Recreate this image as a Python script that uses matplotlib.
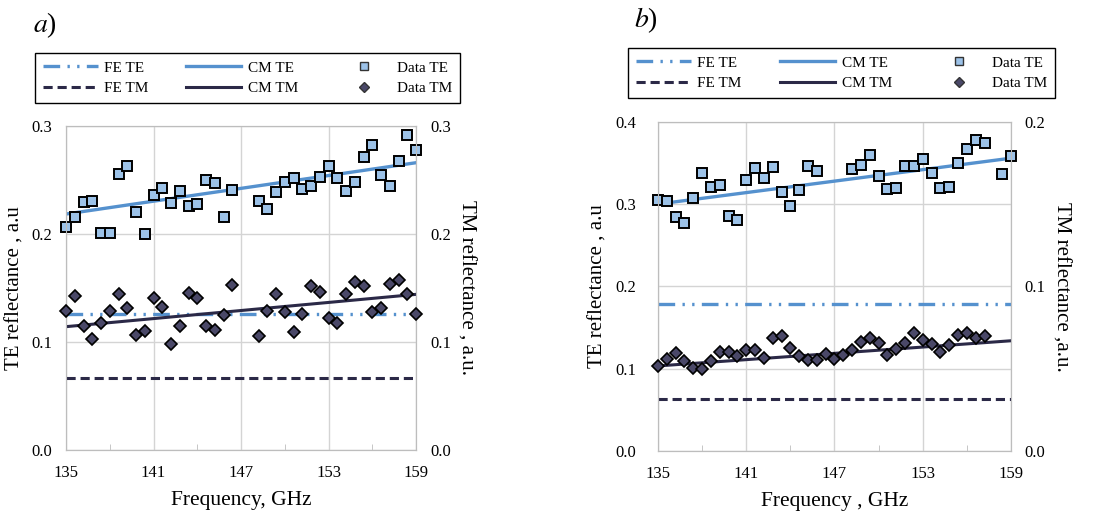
import matplotlib.pyplot as plt
from matplotlib.lines import Line2D
from matplotlib.ticker import MultipleLocator

plt.rcParams['font.family'] = ['Liberation Serif', 'DejaVu Serif']
plt.rcParams['mathtext.fontset'] = 'stix'

# panel a data
freq_te_a = [135.0, 135.6, 136.2, 136.8, 137.4, 138.0, 138.6, 139.2, 139.8, 140.4,
             141.0, 141.6, 142.2, 142.8, 143.4, 144.0, 144.6, 145.2, 145.8, 146.4,
             148.2, 148.8, 149.4, 150.0, 150.6, 151.2, 151.8, 152.4, 153.0, 153.6,
             154.2, 154.8, 155.4, 156.0, 156.6, 157.2, 157.8, 158.4, 159.0]
te_a = [0.2068, 0.2160, 0.2296, 0.2310, 0.2006, 0.2012, 0.2560, 0.2630, 0.2200, 0.1997,
        0.2364, 0.2426, 0.2287, 0.2400, 0.2262, 0.2278, 0.2497, 0.2475, 0.2154, 0.2410,
        0.2302, 0.2231, 0.2392, 0.2485, 0.2522, 0.2414, 0.2444, 0.2525, 0.2630, 0.2515,
        0.2395, 0.2478, 0.2716, 0.2824, 0.2546, 0.2444, 0.2676, 0.2917, 0.2778]
freq_tm_a = freq_te_a
tm_a = [0.1287, 0.1429, 0.1148, 0.1031, 0.1179, 0.1287, 0.1448, 0.1312, 0.1065, 0.1102,
        0.1410, 0.1324, 0.0978, 0.1148, 0.1454, 0.1410, 0.1151, 0.1108, 0.1247, 0.1528,
        0.1059, 0.1287, 0.1448, 0.1275, 0.1096, 0.1256, 0.1522, 0.1466, 0.1222, 0.1173,
        0.1448, 0.1559, 0.1515, 0.1275, 0.1318, 0.1540, 0.1577, 0.1448, 0.1256]
cm_freq = [135.0, 159.0]
cm_te_a = [0.2185, 0.2660]
cm_tm_a = [0.1142, 0.1441]
fe_te_a = 0.1256
fe_tm_a = 0.0664

# panel b data (TM on right axis)
freq_te_b = [135.0, 135.6, 136.2, 136.8, 137.4, 138.0, 138.6, 139.2, 139.8, 140.4,
             141.0, 141.6, 142.2, 142.8, 143.4, 144.0, 144.6, 145.2, 145.8,
             148.2, 148.8, 149.4, 150.0, 150.6, 151.2, 151.8, 152.4, 153.0, 153.6,
             154.2, 154.8, 155.4, 156.0, 156.6, 157.2, 158.4, 159.0]
te_b = [0.3047, 0.3039, 0.2844, 0.2771, 0.3079, 0.3375, 0.3213, 0.3229, 0.2860, 0.2803,
        0.3290, 0.3444, 0.3318, 0.3452, 0.3148, 0.2982, 0.3172, 0.3469, 0.3404,
        0.3432, 0.3480, 0.3598, 0.3347, 0.3189, 0.3201, 0.3460, 0.3460, 0.3546, 0.3375,
        0.3201, 0.3209, 0.3497, 0.3675, 0.3777, 0.3740, 0.3367, 0.3582]
freq_tm_b = [135.0, 135.6, 136.2, 136.8, 137.4, 138.0, 138.6, 139.2, 139.8, 140.4,
             141.0, 141.6, 142.2, 142.8, 143.4, 144.0, 144.6, 145.2, 145.8, 146.4,
             147.0, 147.6, 148.2, 148.8, 149.4, 150.0, 150.6, 151.2, 151.8, 152.4,
             153.0, 153.6, 154.2, 154.8, 155.4, 156.0, 156.6, 157.2]
tm_b = [0.0517, 0.0558, 0.0593, 0.0544, 0.0507, 0.0497, 0.0548, 0.0599, 0.0601, 0.0580,
        0.0611, 0.0613, 0.0566, 0.0686, 0.0696, 0.0623, 0.0578, 0.0554, 0.0556, 0.0590,
        0.0558, 0.0584, 0.0615, 0.0662, 0.0688, 0.0659, 0.0582, 0.0617, 0.0655, 0.0716,
        0.0672, 0.0651, 0.0601, 0.0645, 0.0704, 0.0720, 0.0686, 0.0696]
cm_te_b = [0.3002, 0.3560]
cm_tm_b = [0.0517, 0.0670]
fe_te_b = 0.1793
fe_tm_b = 0.0319

freq_ticks = [135, 141, 147, 153, 159]
freq_minor = [138, 144, 150, 156]

BLUE = '#5591CE'
SQ_FILL = '#9CC2E8'
DARK = '#2B2947'
DIA_FILL = '#4A4868'
GRID = '#D4D4D4'
FE_TE_DASH = (5, 2.2, 0.7, 2.2, 0.7, 2.2)


def panel(rect, freq_te, te, freq_tm, tm, cm_te, cm_tm, fe_te, fe_tm, te_max, tm_max,
          xlabel, ylabel_r, lpad):
    ax = fig.add_axes(rect)
    ax2 = ax.twinx()
    ax.set_xlim(135, 159)
    ax.set_ylim(0, te_max)
    ax2.set_ylim(0, tm_max)
    ax.set_xticks(freq_ticks)
    ax.set_xticks(freq_minor, minor=True)
    ax.yaxis.set_major_locator(MultipleLocator(0.1))
    ax2.yaxis.set_major_locator(MultipleLocator(0.1))
    ax.yaxis.set_major_formatter(lambda v, p: f'{v:.1f}')
    ax2.yaxis.set_major_formatter(lambda v, p: f'{v:.1f}')
    ax.grid(True, which='major', color=GRID, lw=1)
    ax.set_axisbelow(True)
    for a in (ax, ax2):
        for s in a.spines.values():
            s.set_color('#BDBDBD')
    ax.tick_params(axis='x', which='major', length=0, pad=11, labelsize=12)
    ax.tick_params(axis='x', which='minor', direction='in', length=4, color='#BDBDBD')
    ax.tick_params(axis='y', length=0, pad=lpad, labelsize=12)
    ax2.tick_params(axis='y', length=0, pad=10, labelsize=12)

    ax.axhline(fe_te, color=BLUE, lw=2.4, dashes=FE_TE_DASH)
    ax.plot(cm_freq, cm_te, color=BLUE, lw=2.4)
    ax.plot(freq_te, te, ls='none', marker='s', ms=6.5, mfc=SQ_FILL, mec='black',
            mew=1.4, clip_on=False, zorder=3)
    ax2.axhline(fe_tm, color=DARK, lw=2.2, dashes=(3, 1.6))
    ax2.plot(cm_freq, cm_tm, color=DARK, lw=2.2)
    ax2.plot(freq_tm, tm, ls='none', marker='D', ms=5.8, mfc=DIA_FILL, mec='black',
             mew=1.2, clip_on=False, zorder=3)

    ax.set_xlabel(xlabel, fontsize=15.5, labelpad=7)
    ax.set_ylabel('TE reflectance , a.u', fontsize=15, labelpad=5)
    ax2.set_ylabel(ylabel_r, fontsize=15, rotation=270, labelpad=18)
    return ax


def add_legend(box):
    handles = [
        Line2D([], [], color=BLUE, lw=2.4, dashes=FE_TE_DASH),
        Line2D([], [], color=DARK, lw=2.2, dashes=(3, 1.6)),
        Line2D([], [], color=BLUE, lw=2.4),
        Line2D([], [], color=DARK, lw=2.2),
        Line2D([], [], ls='none', marker='s', ms=6, mfc=SQ_FILL, mec='#333333', mew=1),
        Line2D([], [], ls='none', marker='D', ms=5, mfc=DIA_FILL, mec='#333333', mew=1),
    ]
    labels = ['FE TE', 'FE TM', 'CM TE', 'CM TM', 'Data TE', 'Data TM']
    leg = fig.legend(handles, labels, ncol=3, loc='center', bbox_to_anchor=box,
                     mode='expand', fontsize=11, handlelength=3.6, handletextpad=0.4,
                     fancybox=False, framealpha=1, edgecolor='black',
                     borderaxespad=0, labelspacing=0.45, borderpad=0.5)
    leg.get_frame().set_linewidth(1)


fig = plt.figure(figsize=(11.02, 5.13), dpi=100)

panel([0.0599, 0.1228, 0.3176, 0.6316], freq_te_a, te_a, freq_tm_a, tm_a,
      cm_te_a, cm_tm_a, fe_te_a, fe_tm_a, 0.3, 0.3,
      'Frequency, GHz', 'TM reflectance , a.u.', 10)
panel([0.5971, 0.1209, 0.3203, 0.6413], freq_te_b, te_b, freq_tm_b, tm_b,
      cm_te_b, cm_tm_b, fe_te_b, fe_tm_b, 0.4, 0.2,
      'Frequency , GHz', 'TM reflectance ,a.u.', 16)

add_legend((0.0318, 0.797, 0.3857, 0.1014))
add_legend((0.5699, 0.807, 0.3875, 0.1014))

fig.text(0.030, 0.951, r'$a$)', fontsize=20, va='center')
fig.text(0.575, 0.961, r'$b$)', fontsize=20, va='center')

fig.savefig('out.png', dpi=100)
